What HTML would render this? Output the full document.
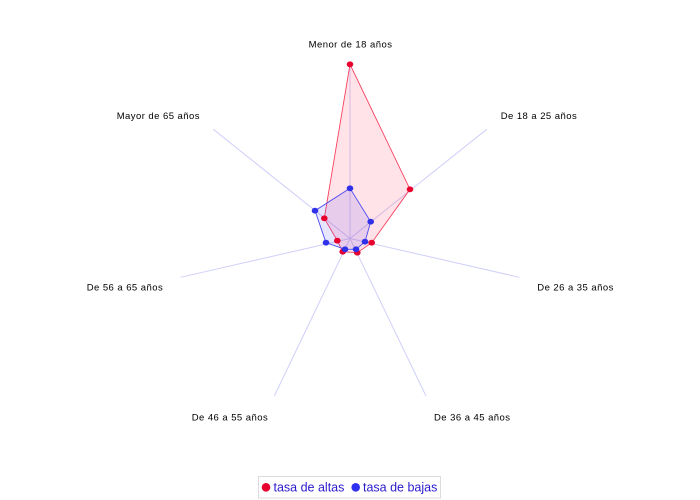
<!DOCTYPE html>
<html><head><meta charset="utf-8"><style>
html,body{margin:0;padding:0;background:#fff;}
svg{display:block;}
.lab{font-family:"Liberation Sans",sans-serif;font-size:9.5px;letter-spacing:0.45px;fill:#000;}
.leg{font-family:"Liberation Sans",sans-serif;font-size:12.5px;fill:#2a1acc;}
</style></head><body>
<svg width="700" height="500" viewBox="0 0 700 500" xmlns="http://www.w3.org/2000/svg">
<rect width="700" height="500" fill="#fff"/>
<g stroke="#cfcffa" stroke-width="1">
<line x1="350" y1="238.5" x2="350" y2="63.5"/>
<line x1="350" y1="238.5" x2="486.7" y2="129.3"/>
<line x1="350" y1="238.5" x2="519.3" y2="277.3"/>
<line x1="350" y1="238.5" x2="426" y2="396"/>
<line x1="350" y1="238.5" x2="274.3" y2="396"/>
<line x1="350" y1="238.5" x2="180.7" y2="277.3"/>
<line x1="350" y1="238.5" x2="213.3" y2="129.3"/>
</g>
<polygon points="350,64.3 410,189.3 371.7,242.7 357.3,252.7 342.7,251.7 337.3,240.7 324.3,218.3" fill="rgba(255,40,80,0.13)" stroke="#f5405f" stroke-width="0.9"/>
<polygon points="350,188.3 370.7,221.7 365,241.7 356,249.3 345,249.3 326,242.7 315,210.7" fill="rgba(70,60,255,0.13)" stroke="#4a4af0" stroke-width="0.9"/>
<g fill="#e8002e">
<ellipse cx="350" cy="64.3" rx="3.3" ry="2.9"/>
<ellipse cx="410" cy="189.3" rx="3.3" ry="2.9"/>
<ellipse cx="371.7" cy="242.7" rx="3.3" ry="2.9"/>
<ellipse cx="357.3" cy="252.7" rx="3.3" ry="2.9"/>
<ellipse cx="342.7" cy="251.7" rx="3.3" ry="2.9"/>
<ellipse cx="337.3" cy="240.7" rx="3.3" ry="2.9"/>
<ellipse cx="324.3" cy="218.3" rx="3.3" ry="2.9"/>
</g>
<g fill="#3030e8">
<ellipse cx="350" cy="188.3" rx="3.3" ry="2.9"/>
<ellipse cx="370.7" cy="221.7" rx="3.3" ry="2.9"/>
<ellipse cx="365" cy="241.7" rx="3.3" ry="2.9"/>
<ellipse cx="356" cy="249.3" rx="3.3" ry="2.9"/>
<ellipse cx="345" cy="249.3" rx="3.3" ry="2.9"/>
<ellipse cx="326" cy="242.7" rx="3.3" ry="2.9"/>
<ellipse cx="315" cy="210.7" rx="3.3" ry="2.9"/>
</g>
<text class="lab" x="350.5" y="47.3" text-anchor="middle">Menor de 18 años</text>
<text class="lab" x="500.7" y="119" >De 18 a 25 años</text>
<text class="lab" x="537.3" y="290.7">De 26 a 35 años</text>
<text class="lab" x="434" y="420.7">De 36 a 45 años</text>
<text class="lab" x="191.7" y="420.7">De 46 a 55 años</text>
<text class="lab" x="86.7" y="290.7">De 56 a 65 años</text>
<text class="lab" x="116.7" y="119">Mayor de 65 años</text>
<rect x="258.5" y="476.5" width="182" height="21.5" fill="#fff" stroke="#dcdcdc" stroke-width="1"/>
<circle cx="266" cy="487.3" r="4.3" fill="#e8002e"/>
<text class="leg" x="273.5" y="491.7">tasa de altas</text>
<circle cx="355.7" cy="487.3" r="4.3" fill="#3030f0"/>
<text class="leg" x="363" y="491.7">tasa de bajas</text>
</svg>
</body></html>
